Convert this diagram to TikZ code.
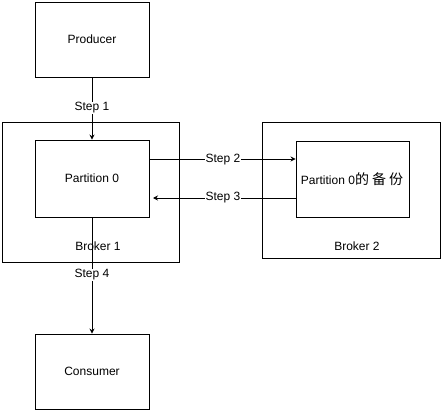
\documentclass[tikz,border=0pt]{standalone}
\usepackage{fontspec}
\setmainfont{Liberation Sans}
\newfontfamily\cjk{Noto Sans CJK SC}
\usetikzlibrary{arrows.meta}
\begin{document}
\begin{tikzpicture}[x=1pt,y=-1pt,
  box/.style={draw,line width=0.9pt,inner sep=0pt},
  lbl/.style={font=\fontsize{12}{14}\selectfont,inner sep=1pt},
  steplbl/.style={font=\fontsize{12}{14}\selectfont,fill=white,inner sep=1pt},
  conn/.style={line width=0.9pt,-{Stealth[length=5pt,width=5pt]}}]
\useasboundingbox (0,0) rectangle (442,412);
\node[box,minimum width=177pt,minimum height=140pt] (b1) at (90.5,192) {};
\node[lbl] (b1l) at (98,246) {Broker 1};
\node[box,minimum width=178pt,minimum height=136pt] (b2) at (351,190) {};
\node[lbl] (b2l) at (357,246) {Broker 2};
\node[box,minimum width=114pt,minimum height=75pt,lbl] (prod) at (92,39.5) {Producer};
\node[box,minimum width=114pt,minimum height=77pt,lbl] (p0) at (92,178.5) {Partition 0};
\node[box,minimum width=113pt,minimum height=76pt] (p0b) at (352.5,179) {};
\node[lbl] (p0bl) at (352,179) {Partition 0{\cjk\fontsize{14}{16}\selectfont 的\hspace{3pt}备\hspace{3pt}份}};
\node[box,minimum width=114pt,minimum height=75pt,lbl] (cons) at (92,371.5) {Consumer};
\draw[conn] (prod.south) -- (p0.north);
\node[steplbl] (s1) at (92,108) {Step 1};
\coordinate (s2a) at (p0.east |- 0,159);
\coordinate (s2b) at (p0b.west |- 0,159);
\draw[conn] (s2a) -- (s2b);
\node[steplbl] (s2) at (223,160) {Step 2};
\coordinate (s3a) at (p0b.west |- 0,198);
\coordinate (s3b) at (153,198);
\draw[conn] (s3a) -- (s3b);
\node[steplbl] (s3) at (223,198) {Step 3};
\draw[conn] (p0.south) -- (cons.north);
\node[steplbl] (s4) at (92,275) {Step 4};
\end{tikzpicture}
\end{document}
